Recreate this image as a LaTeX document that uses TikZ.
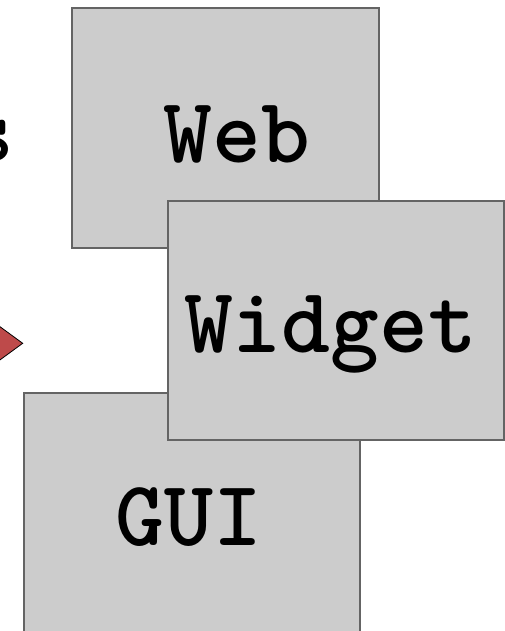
\documentclass[tikz,border=0pt]{standalone}
\definecolor{boxfill}{RGB}{204,204,204}
\definecolor{boxline}{RGB}{100,100,100}
\definecolor{arrowred}{RGB}{190,74,74}
\tikzset{
  panel/.style={draw=boxline, fill=boxfill, line width=2pt, inner sep=0pt, anchor=north west},
  paneltext/.style={font=\ttfamily\bfseries\fontsize{93}{93}\selectfont, inner sep=0pt, anchor=base},
}
\begin{document}
\begin{tikzpicture}[x=1pt,y=-1pt]
  \useasboundingbox (0,0) rectangle (505,631);
  \clip (0,0) rectangle (505,631);
  % trailing letter of a caption running in from the left
  \node[paneltext, anchor=base east] (tail) at (14.5,162) {s};
  % tip of the red arrow
  \filldraw[fill=arrowred, draw=black, line width=0.8pt]
    (22.7,343.3) -- (-20,312.1) -- (-20,374.5) -- cycle;
  % stacked panels
  \node[panel, minimum width=307pt, minimum height=240pt] (web) at (71,7.3) {};
  \node[paneltext] (webtext) at (237,163) {Web};
  \node[panel, minimum width=336pt, minimum height=250pt] (gui) at (23,391.7) {};
  \node[paneltext] (guitext) at (189,545) {GUI};
  \node[panel, minimum width=336pt, minimum height=239.6pt] (widget) at (166.7,199.7) {};
  \node[paneltext] (widgettext) at (330.5,352) {Widget};
\end{tikzpicture}
\end{document}
